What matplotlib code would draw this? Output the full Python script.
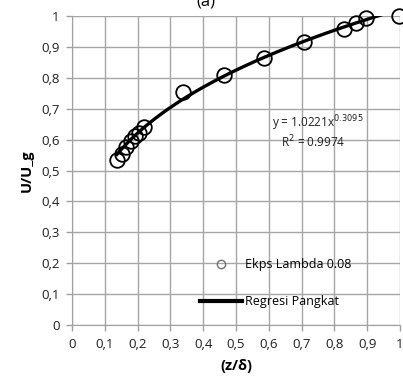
import numpy as np
import matplotlib
matplotlib.use("Agg")
import matplotlib.pyplot as plt
from matplotlib.lines import Line2D
from matplotlib.ticker import FuncFormatter

plt.rcParams['font.family'] = ['Open Sans', 'DejaVu Sans']

# measured velocity profile, lambda = 0.08
z_delta = [0.137, 0.152, 0.166, 0.179, 0.192, 0.204, 0.218,
           0.338, 0.463, 0.585, 0.707, 0.829, 0.866, 0.896, 0.997]
u_ug = [0.534, 0.553, 0.576, 0.595, 0.611, 0.621, 0.640,
        0.754, 0.809, 0.864, 0.916, 0.958, 0.977, 0.993, 1.0]

# power-law regression y = a x^b
coef_a = 1.0221
coef_b = 0.3095
r2 = 0.9974

fig = plt.figure(figsize=(4.03, 3.83), dpi=100)
ax = fig.add_axes([0.1787, 0.1514, 0.8139, 0.8068])

xfit = np.linspace(min(z_delta), 1.0, 200)
yfit = coef_a * xfit ** coef_b
ax.plot(xfit, yfit, color='black', lw=2.4, zorder=3)
ax.plot(z_delta, u_ug, linestyle='none', marker='o', ms=10.5,
        mfc='none', mec='black', mew=1.3, zorder=4, clip_on=False)

ax.set_xlim(0, 1)
ax.set_ylim(0, 1)
ticks = np.round(np.arange(0, 1.01, 0.1), 1)
ax.set_xticks(ticks)
ax.set_yticks(ticks)
fmt = FuncFormatter(lambda v, p: ('%g' % v).replace('.', ','))
ax.xaxis.set_major_formatter(fmt)
ax.yaxis.set_major_formatter(fmt)
ax.tick_params(axis='both', labelsize=9.5, length=4, width=1,
               direction='out', pad=5, colors='#a0a0a0',
               labelcolor='#202020')

ax.grid(True, color='#a6a6a6', lw=1)
ax.set_axisbelow(True)
for side in ['top', 'right']:
    ax.spines[side].set_visible(False)
for side in ['left', 'bottom']:
    ax.spines[side].set_color('#a0a0a0')

ax.set_xlabel('(z/δ)', fontsize=10.5, fontweight='bold', labelpad=6)
ax.set_ylabel('U/U_g', fontsize=10.5, fontweight='bold', labelpad=5)

ax.text(0.75, 0.652, 'y = %.4fx$^{%.4f}$' % (coef_a, coef_b), fontsize=8.5,
        ha='center', va='center', color='#202020')
ax.text(0.735, 0.592, 'R$^{2}$ = %.4f' % r2, fontsize=8.5,
        ha='center', va='center', color='#202020')

fig.text(0.51, 0.995, '(a)', fontsize=12, ha='center', va='center')

handles = [Line2D([], [], linestyle='none', marker='o', ms=6, mfc='none',
                  mec='#707070', mew=1),
           Line2D([], [], color='black', lw=3)]
ax.legend(handles, ['Ekps Lambda 0.08', 'Regresi Pangkat'],
          loc='upper left', bbox_to_anchor=(0.39, 0.217), frameon=False,
          fontsize=9, handlelength=3.4, handletextpad=0.2,
          labelspacing=1.95, borderpad=0, borderaxespad=0)

fig.savefig('out.png', dpi=100)
